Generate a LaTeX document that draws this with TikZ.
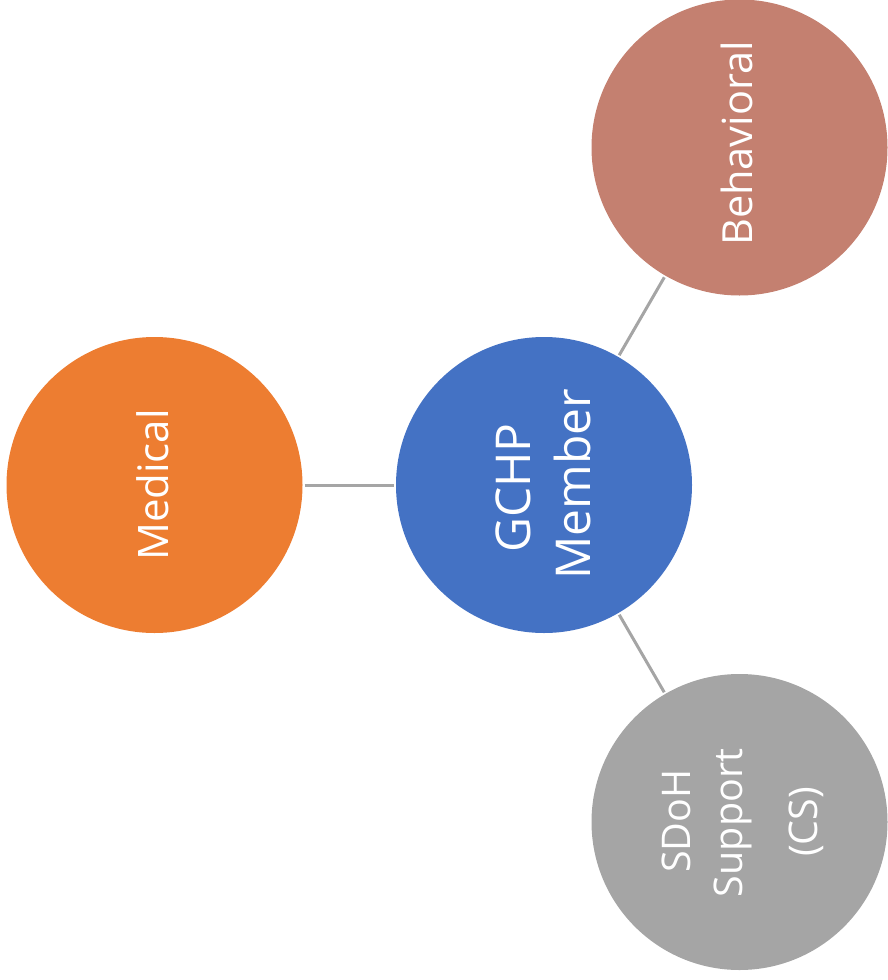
\documentclass[tikz,border=0pt]{standalone}
\usepackage{fontspec}
\setmainfont{Open Sans}
\definecolor{cblue}{HTML}{4472C4}
\definecolor{corange}{HTML}{ED7D31}
\definecolor{cgray}{HTML}{A5A5A5}
\definecolor{cbeh}{HTML}{C48070}
\definecolor{cline}{HTML}{A5A5A5}
\tikzset{
  circ/.style={circle, draw=none, minimum size=296pt, inner sep=0pt, outer sep=0pt},
  lbl/.style={text=white, rotate=90, anchor=base, inner sep=0pt},
  conn/.style={draw=cline, line width=3pt, shorten >=2pt, shorten <=2pt}
}
\begin{document}
\begin{tikzpicture}[x=1pt, y=-1pt]
\useasboundingbox (0,0) rectangle (888,980);
\node[circ, fill=corange] (med) at (154.5,485) {};
\node[circ, fill=cblue] (mem) at (544,485) {};
\node[circ, fill=cbeh] (beh) at (739.5,147.5) {};
\node[circ, fill=cgray] (sdoh) at (739.5,822) {};
\draw[conn] (med) -- (mem);
\draw[conn] (mem) -- (beh);
\draw[conn] (mem) -- (sdoh);
\node[lbl, font=\fontsize{42}{50}\selectfont] (medt) at (168,485) {Medical};
\node[lbl, font=\fontsize{48}{58}\selectfont] (memt1) at (530,488) {GCHP};
\node[lbl, font=\fontsize{48}{58}\selectfont] (memt2) at (590,484) {Member};
\node[lbl, font=\fontsize{41.5}{50}\selectfont] (beht) at (752,143.5) {Behavioral};
\node[lbl, font=\fontsize{39.5}{48}\selectfont] (sdt1) at (690,821) {SDoH};
\node[lbl, font=\fontsize{39.5}{48}\selectfont] (sdt2) at (742,823) {Support};
\node[lbl, font=\fontsize{39.5}{48}\selectfont] (sdt3) at (817,822) {(CS)};
\end{tikzpicture}
\end{document}
